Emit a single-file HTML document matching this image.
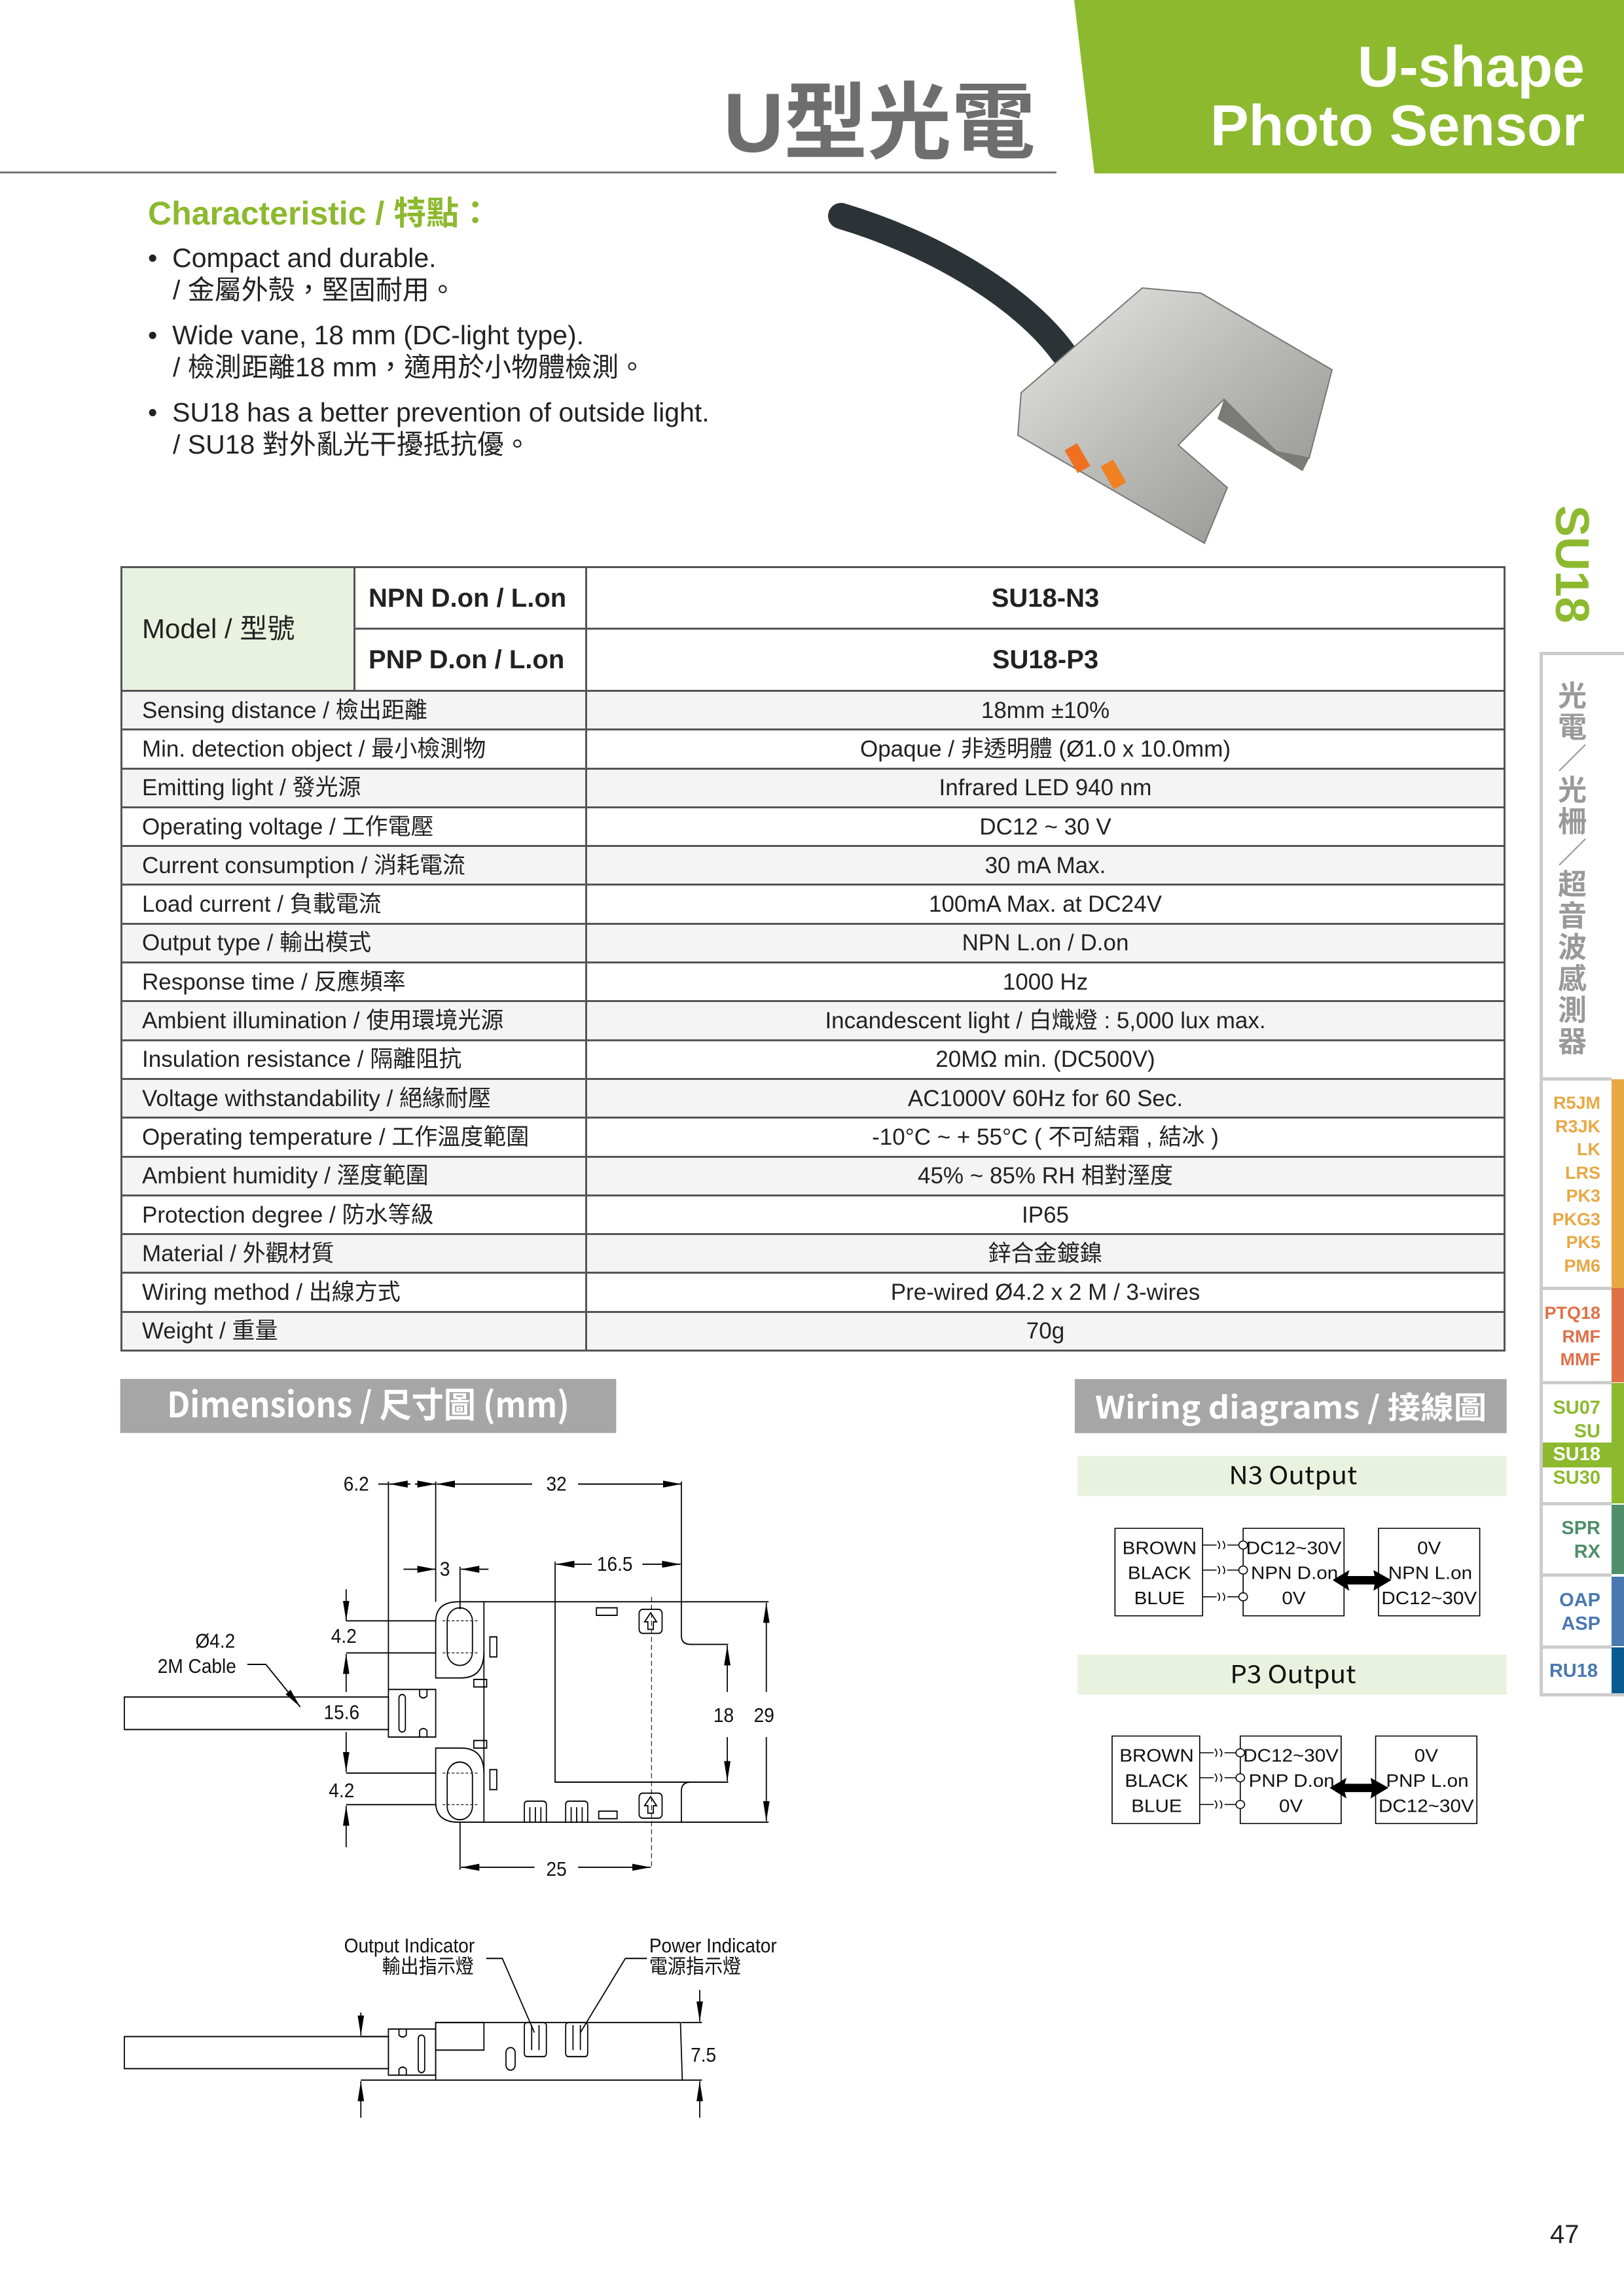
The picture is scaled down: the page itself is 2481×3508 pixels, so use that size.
<!DOCTYPE html>
<html><head><meta charset="utf-8">
<style>
*{margin:0;padding:0;box-sizing:border-box}
body{width:2481px;height:3508px;background:#fff;position:relative;overflow:hidden;font-family:"Liberation Sans","Noto Sans CJK TC",sans-serif;color:#222}
.a{position:absolute;white-space:nowrap}
table{position:absolute;left:184px;top:865px;width:2116px;border-collapse:collapse;font-size:35px}
td{border:3px solid #555;height:59.3px;padding:0 0 0 30px;line-height:1}
td.c{text-align:center;padding:0}
tr.g td{background:#f4f4f4}
.tab{position:absolute;right:0;width:129px;border-left:5px solid #ccc;border-top:5px solid #ccc}
.tt{position:absolute;right:36px;font:bold 29px "Liberation Sans",sans-serif;text-align:right;letter-spacing:0;line-height:35.5px}
</style></head><body>

<!-- header -->
<div class="a" style="left:0;top:262px;width:1614px;height:3px;background:#777"></div>
<div class="a" style="left:1105px;top:84px;font:bold 128px 'Liberation Sans','Noto Sans CJK TC',sans-serif;color:#6e6e6e">U型光電</div>
<svg class="a" style="left:0;top:0" width="2481" height="266"><polygon points="1641,0 2481,0 2481,265 1672,265" fill="#8cb92e"/></svg>
<div class="a" style="right:60px;top:57px;font:bold 88px 'Liberation Sans',sans-serif;color:#fff;text-align:right;line-height:90px">U-shape<br>Photo Sensor</div>

<!-- characteristic -->
<div class="a" style="left:226px;top:286px;font:bold 50px 'Liberation Sans','Noto Sans CJK TC',sans-serif;color:#8cb92e">Characteristic / 特點：</div>
<div class="a" style="left:226px;top:370px;font-size:41px;line-height:49px;color:#222">
<div>•&nbsp; Compact and durable.</div><div style="padding-left:38px">/ 金屬外殼，堅固耐用。</div>
<div style="margin-top:20px">•&nbsp; Wide vane, 18 mm (DC-light type).</div><div style="padding-left:38px">/ 檢測距離18 mm，適用於小物體檢測。</div>
<div style="margin-top:20px">•&nbsp; SU18 has a better prevention of outside light.</div><div style="padding-left:38px">/ SU18 對外亂光干擾抵抗優。</div>
</div>

<!-- product photo approximation -->
<svg class="a" style="left:1250px;top:300px" width="850" height="560" viewBox="1250 300 850 560">
<defs><linearGradient id="m" x1="0" y1="0" x2="1" y2="1"><stop offset="0" stop-color="#e8e8e6"/><stop offset="0.5" stop-color="#b9b9b6"/><stop offset="1" stop-color="#8d8d8a"/></linearGradient></defs>
<path d="M1285,330 C1420,370 1560,450 1625,540" stroke="#2b3336" stroke-width="40" fill="none" stroke-linecap="round"/>
<polygon points="1560,600 1745,440 1835,448 2035,565 2000,700 1950,690 1870,610 1800,680 1875,745 1840,830 1555,665" fill="url(#m)" stroke="#777" stroke-width="2"/>
<polygon points="1870,610 1950,690 2000,700 1990,720 1860,640" fill="#7a7a78"/>
<rect x="1635" y="680" width="22" height="40" fill="#f07020" transform="rotate(-30 1646 700)"/>
<rect x="1690" y="705" width="22" height="40" fill="#f08020" transform="rotate(-30 1701 725)"/>
</svg>

<!-- SU18 vertical -->
<div class="a" style="left:2366px;top:772px;width:70px;height:180px">
<div style="position:absolute;left:-55px;top:55px;width:180px;transform:rotate(90deg);font:bold 72px 'Liberation Sans',sans-serif;color:#8cb92e;text-align:center;line-height:70px">SU18</div></div>

<!-- side tabs -->
<div class="tab" style="top:996px;height:1596px;border-bottom:5px solid #ccc;width:129px"></div>
<div class="a" style="left:2380px;top:1040px;writing-mode:vertical-rl;font:bold 44px 'Noto Sans CJK TC',sans-serif;color:#999;line-height:44px;letter-spacing:4px">光電／光柵／超音波感測器</div>
<div class="a" style="left:2352px;top:1646px;width:110px;height:5px;background:#ccc"></div>
<div class="a" style="left:2462px;top:1649px;width:19px;height:319px;background:#e8a844"></div>
<div class="tt" style="top:1668px;color:#e8a844;font-size:27px">R5JM<br>R3JK<br>LK<br>LRS<br>PK3<br>PKG3<br>PK5<br>PM6</div>
<div class="a" style="left:2352px;top:1966px;width:110px;height:5px;background:#ccc"></div>
<div class="a" style="left:2462px;top:1968px;width:19px;height:144px;background:#e07048"></div>
<div class="tt" style="top:1989px;color:#e07048;font-size:27px">PTQ18<br>RMF<br>MMF</div>
<div class="a" style="left:2352px;top:2110px;width:110px;height:5px;background:#ccc"></div>
<div class="a" style="left:2462px;top:2113px;width:19px;height:184px;background:#8cb92e"></div>
<div class="a" style="left:2357px;top:2204px;width:105px;height:38px;background:#8cb92e"></div>
<div class="tt" style="top:2134px;color:#8cb92e">SU07<br>SU<br><span style="color:#fff">SU18</span><br>SU30</div>
<div class="a" style="left:2352px;top:2295px;width:110px;height:5px;background:#ccc"></div>
<div class="a" style="left:2462px;top:2299px;width:19px;height:106px;background:#4f8f6a"></div>
<div class="tt" style="top:2318px;color:#4f8f6a">SPR<br>RX</div>
<div class="a" style="left:2352px;top:2404px;width:110px;height:5px;background:#ccc"></div>
<div class="a" style="left:2462px;top:2409px;width:19px;height:106px;background:#4a78b0"></div>
<div class="tt" style="top:2428px;color:#4a78b0">OAP<br>ASP</div>
<div class="a" style="left:2352px;top:2514px;width:110px;height:5px;background:#ccc"></div>
<div class="a" style="left:2462px;top:2517px;width:19px;height:70px;background:#0a5a92"></div>
<div class="tt" style="top:2536px;color:#4a78b0;right:40px">RU18</div>

<!-- table -->
<table>
<colgroup><col style="width:356px"><col style="width:354px"><col></colgroup>
<tr><td rowspan="2" style="background:#e9f2df;font-size:42px;height:189px">Model / 型號</td><td style="font-weight:bold;font-size:40px;height:94px;padding-left:20px">NPN D.on / L.on</td><td class="c" style="font-weight:bold;font-size:40px">SU18-N3</td></tr>
<tr><td style="font-weight:bold;font-size:40px;height:95px;padding-left:20px">PNP D.on / L.on</td><td class="c" style="font-weight:bold;font-size:40px">SU18-P3</td></tr>
<tr class="g"><td colspan="2">Sensing distance / 檢出距離</td><td class="c">18mm ±10%</td></tr>
<tr><td colspan="2">Min. detection object / 最小檢測物</td><td class="c">Opaque / 非透明體 (Ø1.0 x 10.0mm)</td></tr>
<tr class="g"><td colspan="2">Emitting light / 發光源</td><td class="c">Infrared LED 940 nm</td></tr>
<tr><td colspan="2">Operating voltage / 工作電壓</td><td class="c">DC12 ~ 30 V</td></tr>
<tr class="g"><td colspan="2">Current consumption / 消耗電流</td><td class="c">30 mA Max.</td></tr>
<tr><td colspan="2">Load current / 負載電流</td><td class="c">100mA Max. at DC24V</td></tr>
<tr class="g"><td colspan="2">Output type / 輸出模式</td><td class="c">NPN L.on / D.on</td></tr>
<tr><td colspan="2">Response time / 反應頻率</td><td class="c">1000 Hz</td></tr>
<tr class="g"><td colspan="2">Ambient illumination / 使用環境光源</td><td class="c">Incandescent light / 白熾燈 : 5,000 lux max.</td></tr>
<tr><td colspan="2">Insulation resistance / 隔離阻抗</td><td class="c">20MΩ min. (DC500V)</td></tr>
<tr class="g"><td colspan="2">Voltage withstandability / 絕緣耐壓</td><td class="c">AC1000V 60Hz for 60 Sec.</td></tr>
<tr><td colspan="2">Operating temperature / 工作溫度範圍</td><td class="c">-10°C ~ + 55°C ( 不可結霜 , 結冰 )</td></tr>
<tr class="g"><td colspan="2">Ambient humidity / 溼度範圍</td><td class="c">45% ~ 85% RH 相對溼度</td></tr>
<tr><td colspan="2">Protection degree / 防水等級</td><td class="c">IP65</td></tr>
<tr class="g"><td colspan="2">Material / 外觀材質</td><td class="c">鋅合金鍍鎳</td></tr>
<tr><td colspan="2">Wiring method / 出線方式</td><td class="c">Pre-wired Ø4.2 x 2 M / 3-wires</td></tr>
<tr class="g"><td colspan="2">Weight / 重量</td><td class="c">70g</td></tr>
</table>

<!-- dimensions drawing -->
<svg class="a" style="left:150px;top:2080px" width="1100" height="1200" viewBox="0 0 1568 1568" preserveAspectRatio="none" font-family="Liberation Sans, Noto Sans CJK TC, sans-serif">
<defs>
<marker id="ab" markerWidth="40" markerHeight="14" refX="40" refY="7" orient="auto" markerUnits="userSpaceOnUse"><path d="M0,0 L40,7 L0,14z" fill="#000"/></marker>
</defs>
<rect x="48" y="35" width="1080" height="108" fill="#a6a6a6"/>
<text x="588" y="112" text-anchor="middle" font-size="70" font-weight="bold" fill="#fff" font-family="Noto Sans CJK TC, sans-serif">Dimensions / 尺寸圖 (mm)</text>
<g stroke="#000" stroke-width="2.5" fill="none">
<line x1="610" y1="245" x2="632" y2="245"/>
<line x1="690" y1="245" x2="735" y2="245" marker-end="url(#ab)"/>
<line x1="680" y1="245" x2="634" y2="245" marker-end="url(#ab)"/>
<line x1="780" y1="245" x2="737" y2="245" marker-end="url(#ab)"/>
<line x1="780" y1="245" x2="945" y2="245"/>
<line x1="1045" y1="245" x2="1270" y2="245" marker-end="url(#ab)"/>
<line x1="632" y1="240" x2="632" y2="655"/>
<line x1="735" y1="240" x2="735" y2="480"/>
<line x1="1270" y1="240" x2="1270" y2="480"/>
<line x1="665" y1="415" x2="735" y2="415" marker-end="url(#ab)"/>
<line x1="850" y1="415" x2="790" y2="415" marker-end="url(#ab)"/>
<line x1="788" y1="410" x2="788" y2="495"/>
<line x1="995" y1="400" x2="995" y2="565"/>
<line x1="1075" y1="405" x2="997" y2="405" marker-end="url(#ab)"/>
<line x1="1185" y1="405" x2="1268" y2="405" marker-end="url(#ab)"/>
<path d="M785,480 L1270,480 L1270,548 Q1270,565 1290,565 L1372,565"/>
<path d="M995,565 L995,840 L1372,840"/>
<path d="M1290,840 Q1270,840 1270,858 L1270,920 L785,920 Q735,920 735,880 L735,772 L790,772 Q840,772 840,822"/>
<path d="M785,480 Q735,480 735,520 L735,632 L790,632 Q840,632 840,580 L840,480"/>
<line x1="840" y1="580" x2="840" y2="920"/>
<rect x="760" y="492" width="55" height="115" rx="27"/>
<rect x="760" y="800" width="55" height="115" rx="27"/>
<rect x="1085" y="492" width="45" height="15"/>
<rect x="853" y="550" width="15" height="40"/>
<rect x="818" y="635" width="28" height="15"/>
<rect x="818" y="757" width="28" height="15"/>
<rect x="853" y="815" width="15" height="40"/>
<rect x="1090" y="898" width="40" height="15"/>
<rect x="1178" y="495" width="50" height="48" rx="8"/>
<path d="M1203,502 L1190,520 L1197,520 L1197,535 L1209,535 L1209,520 L1216,520z"/>
<rect x="1178" y="862" width="50" height="50" rx="8"/>
<path d="M1203,869 L1190,887 L1197,887 L1197,902 L1209,902 L1209,887 L1216,887z"/>
<path d="M928,920 L928,885 Q928,878 935,878 L968,878 Q976,878 976,885 L976,920"/>
<path d="M1018,920 L1018,885 Q1018,878 1025,878 L1058,878 Q1066,878 1066,885 L1066,920"/>
<line x1="940" y1="890" x2="940" y2="920"/><line x1="952" y1="890" x2="952" y2="920"/><line x1="964" y1="890" x2="964" y2="920"/>
<line x1="1030" y1="890" x2="1030" y2="920"/><line x1="1042" y1="890" x2="1042" y2="920"/><line x1="1054" y1="890" x2="1054" y2="920"/>
<rect x="57" y="670" width="575" height="65"/>
<rect x="632" y="655" width="103" height="95"/>
<rect x="655" y="665" width="14" height="75" rx="7"/>
<path d="M700,655 L700,668 Q708,676 716,668 L716,655"/>
<path d="M700,750 L700,737 Q708,729 716,737 L716,750"/>
<line x1="1205" y1="470" x2="1205" y2="1010" stroke-dasharray="10,6" stroke-width="1.5"/>
<line x1="750" y1="518" x2="830" y2="518" stroke-dasharray="6,4" stroke-width="1.5"/>
<line x1="750" y1="582" x2="830" y2="582" stroke-dasharray="6,4" stroke-width="1.5"/>
<line x1="750" y1="822" x2="830" y2="822" stroke-dasharray="6,4" stroke-width="1.5"/>
<line x1="750" y1="885" x2="830" y2="885" stroke-dasharray="6,4" stroke-width="1.5"/>
<line x1="788" y1="920" x2="788" y2="1015"/>
<line x1="950" y1="1010" x2="790" y2="1010" marker-end="url(#ab)"/>
<line x1="1045" y1="1010" x2="1203" y2="1010" marker-end="url(#ab)"/>
<line x1="540" y1="455" x2="540" y2="518" marker-end="url(#ab)"/>
<line x1="540" y1="518" x2="735" y2="518"/>
<line x1="540" y1="582" x2="735" y2="582"/>
<line x1="540" y1="660" x2="540" y2="584" marker-end="url(#ab)"/>
<line x1="540" y1="740" x2="540" y2="820" marker-end="url(#ab)"/>
<line x1="540" y1="822" x2="735" y2="822"/>
<line x1="540" y1="885" x2="735" y2="885"/>
<line x1="540" y1="970" x2="540" y2="887" marker-end="url(#ab)"/>
<path d="M325,605 L365,605 L440,690" marker-end="url(#ab)"/>
<line x1="1270" y1="480" x2="1460" y2="480"/>
<line x1="1270" y1="920" x2="1460" y2="920"/>
<line x1="1370" y1="660" x2="1370" y2="567" marker-end="url(#ab)"/>
<line x1="1370" y1="750" x2="1370" y2="838" marker-end="url(#ab)"/>
<line x1="1455" y1="660" x2="1455" y2="482" marker-end="url(#ab)"/>
<line x1="1455" y1="750" x2="1455" y2="918" marker-end="url(#ab)"/>
<rect x="57" y="1348" width="575" height="64"/>
<rect x="632" y="1333" width="103" height="92"/>
<rect x="697" y="1345" width="14" height="75" rx="7"/>
<path d="M655,1333 L655,1345 Q663,1353 671,1345 L671,1333"/>
<path d="M655,1425 L655,1413 Q663,1405 671,1413 L671,1425"/>
<path d="M735,1320 L1268,1320 L1272,1435 L735,1435z"/>
<rect x="735" y="1320" width="105" height="55"/>
<rect x="888" y="1370" width="20" height="45" rx="10"/>
<rect x="928" y="1320" width="48" height="68" rx="6"/>
<rect x="1018" y="1320" width="48" height="68" rx="6"/>
<line x1="944" y1="1325" x2="944" y2="1375"/><line x1="960" y1="1325" x2="960" y2="1375"/>
<line x1="1034" y1="1325" x2="1034" y2="1375"/><line x1="1050" y1="1325" x2="1050" y2="1375"/>
<line x1="572" y1="1300" x2="572" y2="1346" marker-end="url(#ab)"/>
<line x1="572" y1="1348" x2="632" y2="1348"/>
<line x1="572" y1="1435" x2="735" y2="1435"/>
<line x1="572" y1="1510" x2="572" y2="1437" marker-end="url(#ab)"/>
<line x1="1270" y1="1320" x2="1315" y2="1320"/>
<line x1="1272" y1="1435" x2="1315" y2="1435"/>
<line x1="1310" y1="1255" x2="1310" y2="1318" marker-end="url(#ab)"/>
<line x1="1310" y1="1510" x2="1310" y2="1437" marker-end="url(#ab)"/>
<path d="M845,1192 L880,1192 L950,1340"/>
<path d="M1195,1192 L1148,1192 L1050,1340"/>
</g>
<g font-size="40" fill="#111">
<text x="562" y="258" text-anchor="middle">6.2</text>
<text x="998" y="258" text-anchor="middle">32</text>
<text x="755" y="428" text-anchor="middle">3</text>
<text x="1125" y="418" text-anchor="middle">16.5</text>
<text x="535" y="562" text-anchor="middle">4.2</text>
<text x="530" y="714" text-anchor="middle">15.6</text>
<text x="530" y="870" text-anchor="middle">4.2</text>
<text x="255" y="572" text-anchor="middle">Ø4.2</text>
<text x="215" y="622" text-anchor="middle">2M Cable</text>
<text x="1362" y="720" text-anchor="middle">18</text>
<text x="1450" y="720" text-anchor="middle">29</text>
<text x="998" y="1027" text-anchor="middle">25</text>
<text x="1318" y="1398" text-anchor="middle">7.5</text>
<text x="820" y="1180" text-anchor="end">Output Indicator</text>
<text x="818" y="1222" text-anchor="end">輸出指示燈</text>
<text x="1200" y="1180">Power Indicator</text>
<text x="1200" y="1222">電源指示燈</text>
</g>
</svg>

<!-- wiring diagrams -->
<svg class="a" style="left:1620px;top:2080px" width="730" height="800" viewBox="0 0 1331 1568" preserveAspectRatio="none" font-family="Liberation Sans, Noto Sans CJK TC, sans-serif">
<rect x="40" y="53" width="1203" height="162" fill="#a6a6a6"/>
<text x="642" y="172" text-anchor="middle" font-size="92" font-weight="bold" fill="#fff" font-family="Noto Sans CJK TC, sans-serif">Wiring diagrams / 接線圖</text>
<rect x="48" y="283" width="1195" height="120" fill="#e9f2df"/>
<text x="648" y="368" text-anchor="middle" font-size="74" fill="#111" font-family="Noto Sans CJK TC, sans-serif">N3 Output</text>
<rect x="48" y="878" width="1195" height="120" fill="#e9f2df"/>
<text x="648" y="963" text-anchor="middle" font-size="74" fill="#111" font-family="Noto Sans CJK TC, sans-serif">P3 Output</text>
<g>
<g stroke="#000" stroke-width="3" fill="none">
<rect x="152" y="500" width="244" height="262"/>
<rect x="509" y="500" width="281" height="262"/>
<rect x="886" y="500" width="282" height="262"/>
<path d="M396,550 L435,550 M465,550 L497,550 M438,538 Q448,550 440,562 M452,538 Q462,550 454,562"/>
<path d="M396,625 L435,625 M465,625 L497,625 M438,613 Q448,625 440,637 M452,613 Q462,625 454,637"/>
<path d="M396,705 L435,705 M465,705 L497,705 M438,693 Q448,705 440,717 M452,693 Q462,705 454,717"/>
<circle cx="509" cy="550" r="12" fill="#fff"/><circle cx="509" cy="625" r="12" fill="#fff"/><circle cx="509" cy="705" r="12" fill="#fff"/>
</g>
<path d="M758,655 L805,625 L800,643 L875,643 L872,625 L922,655 L872,687 L875,668 L800,668 L805,687z" fill="#000"/>
<g font-size="54" fill="#111" text-anchor="middle">
<text x="276" y="577">BROWN</text><text x="276" y="652">BLACK</text><text x="276" y="727">BLUE</text>
<text x="650" y="577">DC12~30V</text><text x="652" y="652">NPN D.on</text><text x="650" y="727">0V</text>
<text x="1027" y="577">0V</text><text x="1030" y="652">NPN L.on</text><text x="1027" y="727">DC12~30V</text>
</g>
</g>
<g transform="translate(-8,622)">
<g stroke="#000" stroke-width="3" fill="none">
<rect x="152" y="500" width="244" height="262"/>
<rect x="509" y="500" width="281" height="262"/>
<rect x="886" y="500" width="282" height="262"/>
<path d="M396,550 L435,550 M465,550 L497,550 M438,538 Q448,550 440,562 M452,538 Q462,550 454,562"/>
<path d="M396,625 L435,625 M465,625 L497,625 M438,613 Q448,625 440,637 M452,613 Q462,625 454,637"/>
<path d="M396,705 L435,705 M465,705 L497,705 M438,693 Q448,705 440,717 M452,693 Q462,705 454,717"/>
<circle cx="509" cy="550" r="12" fill="#fff"/><circle cx="509" cy="625" r="12" fill="#fff"/><circle cx="509" cy="705" r="12" fill="#fff"/>
</g>
<path d="M758,655 L805,625 L800,643 L875,643 L872,625 L922,655 L872,687 L875,668 L800,668 L805,687z" fill="#000"/>
<g font-size="54" fill="#111" text-anchor="middle">
<text x="276" y="577">BROWN</text><text x="276" y="652">BLACK</text><text x="276" y="727">BLUE</text>
<text x="650" y="577">DC12~30V</text><text x="652" y="652">PNP D.on</text><text x="650" y="727">0V</text>
<text x="1027" y="577">0V</text><text x="1030" y="652">PNP L.on</text><text x="1027" y="727">DC12~30V</text>
</g>
</g>
</svg>

<div class="a" style="left:2368px;top:3392px;font-size:40px;color:#222">47</div>
</body></html>
